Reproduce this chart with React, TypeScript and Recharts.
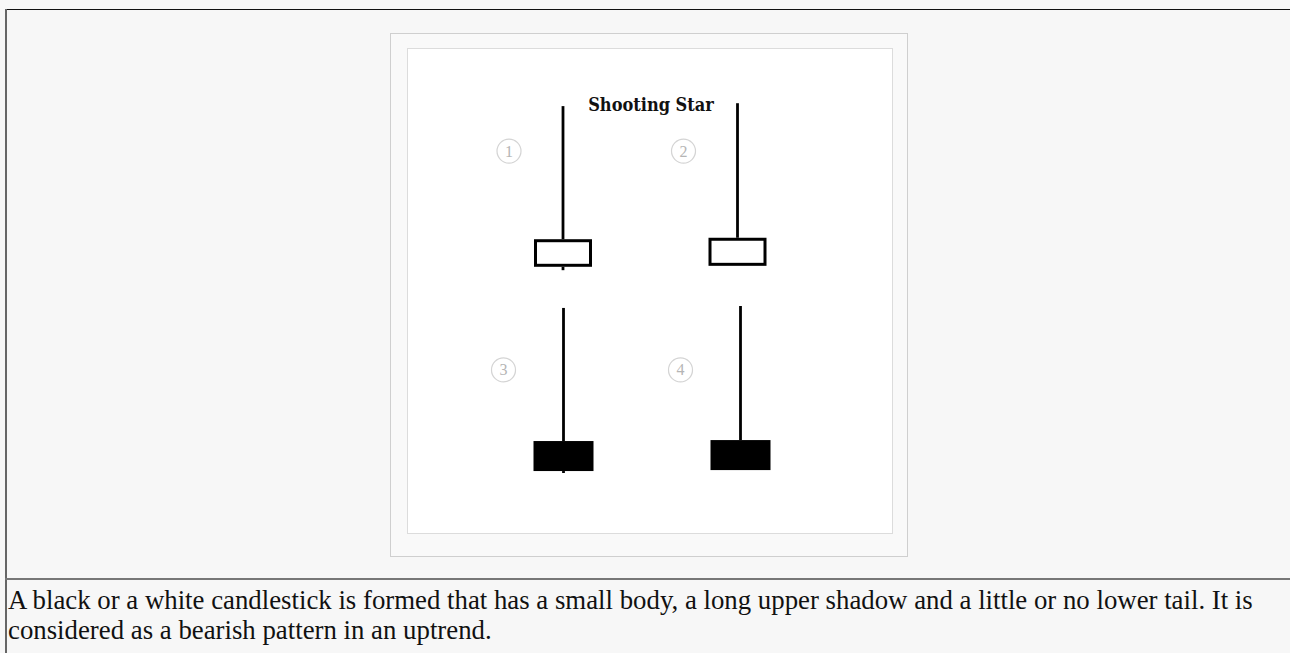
import { ComposedChart, Bar, XAxis, YAxis } from 'recharts'

// two columns of candles, a top row (white) and a bottom row (black)
const columns = ['left', 'right']

const topOpen = [55.0, 55.2]
const topClose = [60.7, 61.0]
const topHigh = [88.2, 88.8]
const topLow = [54.3, 55.2]
const topTags = ['1', '2']
const topTagLevel = 78.9

const bottomOpen = [19.0, 19.2]
const bottomClose = [12.8, 13.0]
const bottomHigh = [46.5, 46.9]
const bottomLow = [12.4, 13.0]
const bottomTags = ['3', '4']
const bottomTagLevel = 33.7

const title = 'Shooting Star'
const caption1 =
  'A black or a white candlestick is formed that has a small body, a long upper shadow and a little or no lower tail. It is'
const caption2 = 'considered as a bearish pattern in an uptrend.'

const data = columns.map((c, i) => ({
  col: c,
  top: { open: topOpen[i], close: topClose[i], high: topHigh[i], low: topLow[i], tag: topTags[i], tagLevel: topTagLevel },
  bottom: {
    open: bottomOpen[i],
    close: bottomClose[i],
    high: bottomHigh[i],
    low: bottomLow[i],
    tag: bottomTags[i],
    tagLevel: bottomTagLevel,
  },
}))

function Candle(props: any) {
  const { x, y, width, height, payload, row, tagOffset } = props
  const c = payload[row]
  const top = Math.min(y, y + height)
  const h = Math.abs(height)
  const k = h / (c.high - c.low)
  const cx = x + width / 2
  const bodyTop = top + (c.high - Math.max(c.open, c.close)) * k
  const bodyBot = top + (c.high - Math.min(c.open, c.close)) * k
  const bullish = c.close >= c.open
  const tagY = top + (c.high - c.tagLevel) * k
  const tagX = cx + tagOffset
  return (
    <g>
      <line x1={cx} x2={cx} y1={top} y2={bodyTop} stroke="#000" strokeWidth={2.8} />
      <line x1={cx} x2={cx} y1={bodyBot} y2={top + h} stroke="#000" strokeWidth={2.8} />
      {bullish ? (
        <rect
          x={x + 1.5}
          y={bodyTop + 1.5}
          width={width - 3}
          height={bodyBot - bodyTop - 3}
          fill="#fff"
          stroke="#000"
          strokeWidth={3}
        />
      ) : (
        <rect x={x} y={bodyTop} width={width} height={bodyBot - bodyTop} fill="#000" />
      )}
      <circle cx={tagX} cy={tagY} r={12} fill="none" stroke="#d4d4d4" strokeWidth={1.2} />
      <text
        x={tagX}
        y={tagY + 5.5}
        textAnchor="middle"
        fontFamily="Liberation Serif"
        fontSize={16}
        fill="#b5b5b5"
      >
        {c.tag}
      </text>
    </g>
  )
}

export default function App() {
  return (
    <div style={{ position: 'absolute', left: 0, top: 0, width: 1290, height: 653, background: '#f7f7f7', overflow: 'hidden' }}>
      {/* table borders */}
      <div style={{ position: 'absolute', left: 5, top: 9, width: 1300, height: 1, background: '#111' }} />
      <div style={{ position: 'absolute', left: 5, top: 9, width: 2, height: 660, background: '#666' }} />
      <div style={{ position: 'absolute', left: 5, top: 578, width: 1300, height: 2, background: '#777' }} />

      {/* picture frame */}
      <div
        style={{
          position: 'absolute',
          left: 390,
          top: 33,
          width: 516,
          height: 522,
          background: '#f9f9f9',
          border: '1px solid #cfcfcf',
        }}
      />
      <div
        style={{
          position: 'absolute',
          left: 407,
          top: 48,
          width: 484,
          height: 484,
          background: '#fff',
          border: '1px solid #dcdcdc',
        }}
      />

      <div style={{ position: 'absolute', left: 408, top: 49 }}>
        <ComposedChart width={484} height={484} data={data} margin={{ top: 0, right: 0, bottom: 0, left: 0 }}>
          <XAxis xAxisId="top" dataKey="col" hide padding={{ left: 68, right: 67 }} />
          <XAxis xAxisId="bottom" dataKey="col" hide padding={{ left: 66.5, right: 63.5 }} />
          <YAxis hide domain={[0, 100]} type="number" />
          <Bar
            xAxisId="top"
            dataKey={(d: any) => [d.top.low, d.top.high]}
            barSize={58}
            isAnimationActive={false}
            shape={(p: any) => <Candle {...p} row="top" tagOffset={-54} />}
          />
          <Bar
            xAxisId="bottom"
            dataKey={(d: any) => [d.bottom.low, d.bottom.high]}
            barSize={60}
            isAnimationActive={false}
            shape={(p: any) => <Candle {...p} row="bottom" tagOffset={-60} />}
          />
        </ComposedChart>
      </div>

      <div
        style={{
          position: 'absolute',
          left: 583,
          top: 96,
          width: 136,
          textAlign: 'center',
          fontFamily: '"DejaVu Serif Condensed", "DejaVu Serif"',
          fontStretch: 'condensed',
          fontWeight: 'bold',
          fontSize: 18,
          lineHeight: '18px',
          color: '#111',
          background: '#fff',
        }}
      >
        {title}
      </div>

      <div
        style={{
          position: 'absolute',
          left: 8,
          top: 585,
          width: 1280,
          fontFamily: 'Liberation Serif, serif',
          fontSize: 26.8,
          lineHeight: '30px',
          color: '#111',
          whiteSpace: 'nowrap',
        }}
      >
        {caption1}
        <br />
        {caption2}
      </div>
    </div>
  )
}
